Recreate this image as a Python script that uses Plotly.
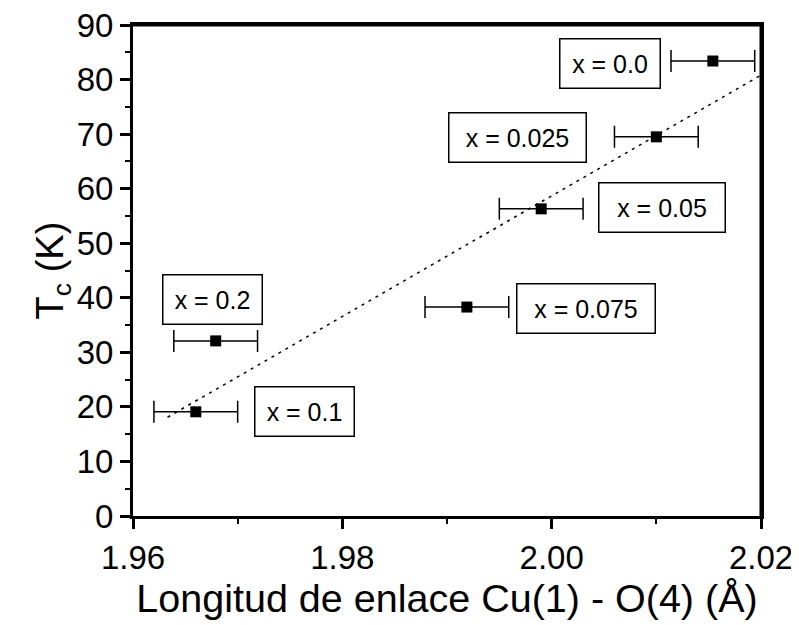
import plotly.graph_objects as go

# Data
bond_length = [2.0154, 2.0100, 1.9990, 1.9919, 1.9679, 1.9660]
tc = [83.4, 69.5, 56.3, 38.3, 32.1, 19.1]
bond_err = [0.004, 0.004, 0.004, 0.004, 0.004, 0.004]
labels = ["x = 0.0", "x = 0.025", "x = 0.05", "x = 0.075", "x = 0.2", "x = 0.1"]
label_x = [2.00557, 1.99669, 2.01054, 2.00328, 1.96764, 1.97634]
label_y = [83.0, 69.3, 56.6, 38.1, 39.6, 19.1]
label_w = [97, 134, 123, 135, 96, 96]
fit_x = [1.9633, 2.0200]
fit_y = [18.1, 80.8]
x_ticks = [1.96, 1.98, 2.00, 2.02]
x_ticktext = ["1.96", "1.98", "2.00", "2.02"]
x_minor = [1.97, 1.99, 2.01]
y_ticks = list(range(0, 91, 10))
y_minor = list(range(5, 90, 10))
x_title = "Longitud de enlace Cu(1) - O(4) (Å)"
y_title = "T<sub>c</sub> (K)"

FONT = "Arial, Liberation Sans, sans-serif"
X_RANGE = [1.96, 2.02]
Y_RANGE = [0, 90]

fig = go.Figure()
fig.add_trace(go.Scatter(
    x=fit_x, y=fit_y, mode="lines",
    line=dict(color="black", width=1.5, dash="3px,5px"),
    showlegend=False, hoverinfo="skip"))
fig.add_trace(go.Scatter(
    x=bond_length, y=tc, mode="markers",
    marker=dict(symbol="square", size=11, color="black"),
    error_x=dict(type="data", array=bond_err, color="black", thickness=1.5, width=11),
    showlegend=False))
# top and right frame of the plot box, taken from the axis ranges
fig.add_trace(go.Scatter(
    x=[X_RANGE[0], X_RANGE[1], X_RANGE[1]], y=[Y_RANGE[1], Y_RANGE[1], Y_RANGE[0]],
    mode="lines", line=dict(color="black", width=3), cliponaxis=False,
    showlegend=False, hoverinfo="skip"))

for t, lx, ly, w in zip(labels, label_x, label_y, label_w):
    fig.add_annotation(
        x=lx, y=ly, xref="x", yref="y", text=t, showarrow=False,
        font=dict(family=FONT, size=25, color="black"),
        bordercolor="black", borderwidth=1.5, borderpad=1,
        width=w, height=46, bgcolor="white")

axis_common = dict(
    showgrid=False, zeroline=False, showline=True, linecolor="black",
    linewidth=3, mirror=True, ticks="outside", tickwidth=2.5, tickcolor="black",
    ticklen=10, automargin=False, ticklabeloverflow="allow",
    tickfont=dict(family=FONT, size=33, color="black"),
)

fig.update_xaxes(
    range=X_RANGE, tickvals=x_ticks, ticktext=x_ticktext,
    minor=dict(tickvals=x_minor, ticks="outside", ticklen=5, tickwidth=2, tickcolor="black"),
    title=dict(text=x_title, standoff=10,
               font=dict(family=FONT, size=39.5, color="black")),
    **axis_common)
fig.update_yaxes(
    range=Y_RANGE, tickvals=y_ticks,
    minor=dict(tickvals=y_minor, ticks="outside", ticklen=5, tickwidth=2, tickcolor="black"),
    title=dict(text=y_title, standoff=0,
               font=dict(family=FONT, size=38, color="black")),
    **axis_common)

fig.update_layout(
    width=799, height=625,
    margin=dict(l=125, r=46, t=17, b=117, autoexpand=False),
    plot_bgcolor="white", paper_bgcolor="white",
)

fig.write_html("out.html")
